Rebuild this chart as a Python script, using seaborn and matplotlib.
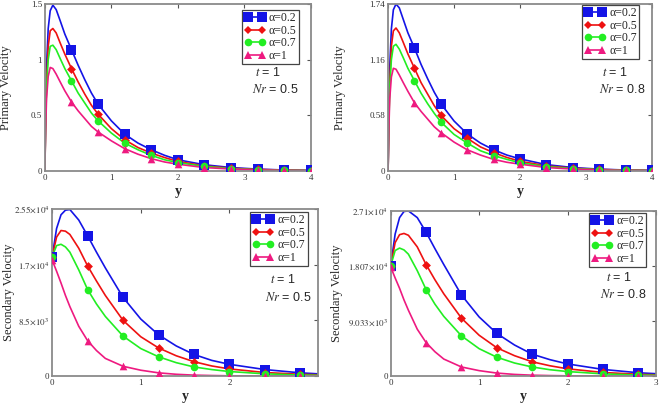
import numpy as np
import pandas as pd
import matplotlib
matplotlib.use('Agg')
import matplotlib.pyplot as plt
import seaborn as sns
from matplotlib.lines import Line2D

# --- Data ---
ALPHAS = ['α=0.2', 'α=0.5', 'α=0.7', 'α=1']

# primary velocity, y grid
Y_TOP = [0, 0.01, 0.025, 0.05, 0.08, 0.12, 0.17, 0.23, 0.3, 0.4, 0.5, 0.6, 0.7, 0.8,
         1.0, 1.2, 1.4, 1.6, 1.8, 2.0, 2.4, 2.8, 3.2, 3.6, 4.0]
MARK_TOP = [0.4, 0.8, 1.2, 1.6, 2.0, 2.4, 2.8, 3.2, 3.6, 4.0]

P05_A02 = [0, 0.45, 0.94, 1.28, 1.44, 1.49, 1.45, 1.35, 1.23, 1.09, 0.95, 0.82, 0.70, 0.60,
           0.45, 0.33, 0.25, 0.19, 0.14, 0.10, 0.055, 0.03, 0.016, 0.008, 0.004]
P05_A05 = [0, 0.40, 0.80, 1.12, 1.26, 1.28, 1.24, 1.15, 1.05, 0.92, 0.80, 0.69, 0.59, 0.51,
           0.38, 0.28, 0.21, 0.16, 0.12, 0.085, 0.045, 0.024, 0.013, 0.007, 0.003]
P05_A07 = [0, 0.38, 0.75, 1.00, 1.12, 1.13, 1.09, 1.01, 0.92, 0.81, 0.70, 0.61, 0.52, 0.45,
           0.34, 0.25, 0.19, 0.14, 0.10, 0.075, 0.04, 0.02, 0.011, 0.006, 0.003]
P05_A1 = [0, 0.35, 0.65, 0.85, 0.93, 0.92, 0.87, 0.80, 0.72, 0.62, 0.54, 0.47, 0.40, 0.35,
          0.27, 0.20, 0.15, 0.11, 0.08, 0.06, 0.03, 0.017, 0.009, 0.005, 0.002]

P08_A02 = [0, 0.50, 1.08, 1.48, 1.68, 1.74, 1.70, 1.58, 1.44, 1.28, 1.11, 0.96, 0.82, 0.70,
           0.52, 0.385, 0.29, 0.22, 0.165, 0.125, 0.065, 0.035, 0.018, 0.009, 0.005]
P08_A05 = [0, 0.46, 0.93, 1.30, 1.46, 1.49, 1.44, 1.34, 1.22, 1.07, 0.92, 0.80, 0.68, 0.58,
           0.44, 0.34, 0.25, 0.19, 0.14, 0.10, 0.053, 0.028, 0.015, 0.008, 0.004]
P08_A07 = [0, 0.44, 0.87, 1.16, 1.30, 1.32, 1.27, 1.18, 1.07, 0.94, 0.81, 0.70, 0.60, 0.51,
           0.38, 0.29, 0.21, 0.16, 0.12, 0.085, 0.045, 0.024, 0.013, 0.007, 0.003]
P08_A1 = [0, 0.40, 0.75, 0.98, 1.07, 1.06, 1.00, 0.92, 0.83, 0.71, 0.62, 0.54, 0.46, 0.40,
          0.30, 0.22, 0.165, 0.12, 0.09, 0.07, 0.035, 0.019, 0.01, 0.005, 0.002]

# secondary velocity (x 1e3), y grid
Y_BOT = [0, 0.05, 0.1, 0.15, 0.2, 0.3, 0.4, 0.5, 0.6, 0.8, 1.0, 1.2, 1.4, 1.6, 1.8, 2.0,
         2.4, 2.8, 3.0]
MARK_BOT = [0, 0.4, 0.8, 1.2, 1.6, 2.0, 2.4, 2.8]

S05_A02 = [18.2, 22.5, 24.6, 25.3, 25.4, 23.8, 21.4, 18.9, 16.5, 12.0, 8.7, 6.3, 4.6, 3.3,
           2.4, 1.8, 1.0, 0.5, 0.35]
S05_A05 = [18.2, 21.2, 22.2, 22.1, 21.6, 19.5, 16.8, 14.5, 12.3, 8.5, 6.0, 4.3, 3.1, 2.2,
           1.55, 1.1, 0.55, 0.28, 0.2]
S05_A07 = [18.2, 19.9, 20.1, 19.7, 18.9, 16.2, 13.2, 11.0, 9.1, 6.1, 4.2, 2.95, 2.05, 1.4,
           1.0, 0.7, 0.35, 0.17, 0.12]
S05_A1 = [17.7, 16.0, 14.2, 12.3, 10.6, 7.6, 5.4, 3.9, 2.7, 1.5, 0.9, 0.5, 0.28, 0.15,
          0.09, 0.05, 0.02, 0.01, 0.005]

S08_A02 = [18.1, 23.3, 26.0, 27.0, 27.1, 26.0, 23.6, 20.9, 18.3, 13.3, 9.7, 7.0, 5.1, 3.6,
           2.7, 2.0, 1.1, 0.55, 0.4]
S08_A05 = [18.1, 21.9, 23.2, 23.4, 23.1, 21.2, 18.3, 15.8, 13.5, 9.5, 6.7, 4.65, 3.35, 2.35,
           1.7, 1.2, 0.6, 0.3, 0.21]
S08_A07 = [18.1, 20.6, 21.0, 20.7, 20.0, 17.3, 14.2, 11.8, 9.8, 6.6, 4.5, 3.1, 2.15, 1.5,
           1.05, 0.75, 0.37, 0.18, 0.13]
S08_A1 = [17.9, 16.1, 14.4, 12.5, 10.8, 7.7, 5.5, 4.0, 2.8, 1.5, 0.9, 0.5, 0.28, 0.15,
          0.09, 0.05, 0.02, 0.01, 0.005]

# tick values / labels
TOP_L_YT = [0, 0.5, 1.0, 1.5]
TOP_L_YL = ['0', '0.5', '1', '1.5']
TOP_R_YT = [0, 0.58, 1.16, 1.74]
TOP_R_YL = ['0', '0.58', '1.16', '1.74']
BOT_L_YT = [0, 8500, 17000, 25500]
BOT_L_YL = ['0', r'$8.5{\times}10^{3}$', r'$1.7{\times}10^{4}$', r'$2.55{\times}10^{4}$']
BOT_R_YT = [0, 9033, 18070, 27100]
BOT_R_YL = ['0', r'$9.033{\times}10^{3}$', r'$1.807{\times}10^{4}$', r'$2.71{\times}10^{4}$']

COLORS = ['#1414e6', '#ee1111', '#22ee22', '#ee1a80']
MARKERS = ['s', 'D', 'o', '^']
MSIZES = [6.5, 4.5, 5.5, 5.5]

sns.set_theme(style='white')
plt.rcParams['font.family'] = ['Liberation Serif', 'DejaVu Serif']
plt.rcParams['mathtext.fontset'] = 'stix'

fig = plt.figure(figsize=(6.6, 4.04), dpi=100)


def panel(rect, ygrid, series, scale, marks, xlim, xticks, ylim, yticks, ylabels,
          ylabel, nr, ylab_x, leg_anchor, t_pos, nr_pos):
    ax = fig.add_axes(rect)
    for vals, lab, col, mk, ms in zip(series, ALPHAS, COLORS, MARKERS, MSIZES):
        df = pd.DataFrame({'y': ygrid, 'v': np.array(vals) * scale})
        sns.lineplot(data=df, x='y', y='v', ax=ax, color=col, lw=1.2, legend=False)
        sub = df[np.isin(np.round(df['y'], 3), np.round(marks, 3))]
        sns.scatterplot(data=sub, x='y', y='v', ax=ax, color=col, marker=mk,
                        s=ms ** 2, edgecolor=col, linewidth=0, legend=False, zorder=3)
    ax.set_xlim(*xlim)
    ax.set_ylim(*ylim)
    ax.set_xticks(xticks)
    ax.set_xticklabels([str(t) for t in xticks])
    ax.set_yticks(yticks)
    ax.set_yticklabels(ylabels)
    ax.tick_params(direction='in', length=3, width=0.8, color='#555555', labelsize=6.5,
                   top=True, right=True, pad=2, labelcolor='#333333')
    for sp in ax.spines.values():
        sp.set_color('#8a8a8a')
        sp.set_linewidth(1.3)
    ax.set_xlabel('y', fontsize=10, fontweight='bold')
    ax.xaxis.set_label_coords(0.5, -0.085)
    ax.set_ylabel(ylabel, fontsize=9)
    ax.yaxis.set_label_coords(ylab_x, 0.5)

    handles = [Line2D([0], [0], color=c, lw=1.2, marker=m, markersize=ms,
                      markeredgewidth=0)
               for c, m, ms in zip(COLORS, MARKERS, MSIZES)]
    leg = ax.legend(handles, ALPHAS, loc='upper left', bbox_to_anchor=leg_anchor,
                    numpoints=2, handlelength=1.8, handletextpad=0.3, borderpad=0.2,
                    labelspacing=0.05, fontsize=8.5, fancybox=False, framealpha=1,
                    borderaxespad=0)
    leg.get_frame().set_edgecolor('#444444')
    leg.get_frame().set_linewidth(0.9)

    ax.text(t_pos[0], t_pos[1], r'$t$ = 1', transform=ax.transAxes, fontsize=9,
            va='center', family=['Liberation Sans', 'DejaVu Sans'])
    ax.text(nr_pos[0], nr_pos[1], r'$Nr$ = ' + nr, transform=ax.transAxes,
            fontsize=9, va='center', family=['Liberation Sans', 'DejaVu Sans'])
    return ax


panel([0.068, 0.577, 0.403, 0.413], Y_TOP, [P05_A02, P05_A05, P05_A07, P05_A1], 1.0,
      MARK_TOP, (0, 4), [0, 1, 2, 3, 4], (0, 1.5), TOP_L_YT, TOP_L_YL,
      'Primary Velocity', '0.5', -0.125, (0.74, 0.965), (0.79, 0.59), (0.78, 0.49))
panel([0.588, 0.577, 0.400, 0.413], Y_TOP, [P08_A02, P08_A05, P08_A07, P08_A1], 1.0,
      MARK_TOP, (0, 4), [0, 1, 2, 3, 4], (0, 1.74), TOP_R_YT, TOP_R_YL,
      'Primary Velocity', '0.8', -0.16, (0.735, 0.995), (0.81, 0.59), (0.80, 0.49))
panel([0.079, 0.069, 0.403, 0.414], Y_BOT, [S05_A02, S05_A05, S05_A07, S05_A1], 1000.0,
      MARK_BOT, (0, 3), [0, 1, 2], (0, 25500), BOT_L_YT, BOT_L_YL,
      'Secondary Velocity', '0.5', -0.14, (0.745, 0.982), (0.82, 0.575), (0.80, 0.473))
panel([0.592, 0.069, 0.402, 0.409], Y_BOT, [S08_A02, S08_A05, S08_A07, S08_A1], 1000.0,
      MARK_BOT, (0, 3), [0, 1, 2, 3], (0, 27100), BOT_R_YT, BOT_R_YL,
      'Secondary Velocity', '0.8', -0.18, (0.747, 0.988), (0.81, 0.594), (0.79, 0.497))

fig.savefig('out.png', dpi=100)
